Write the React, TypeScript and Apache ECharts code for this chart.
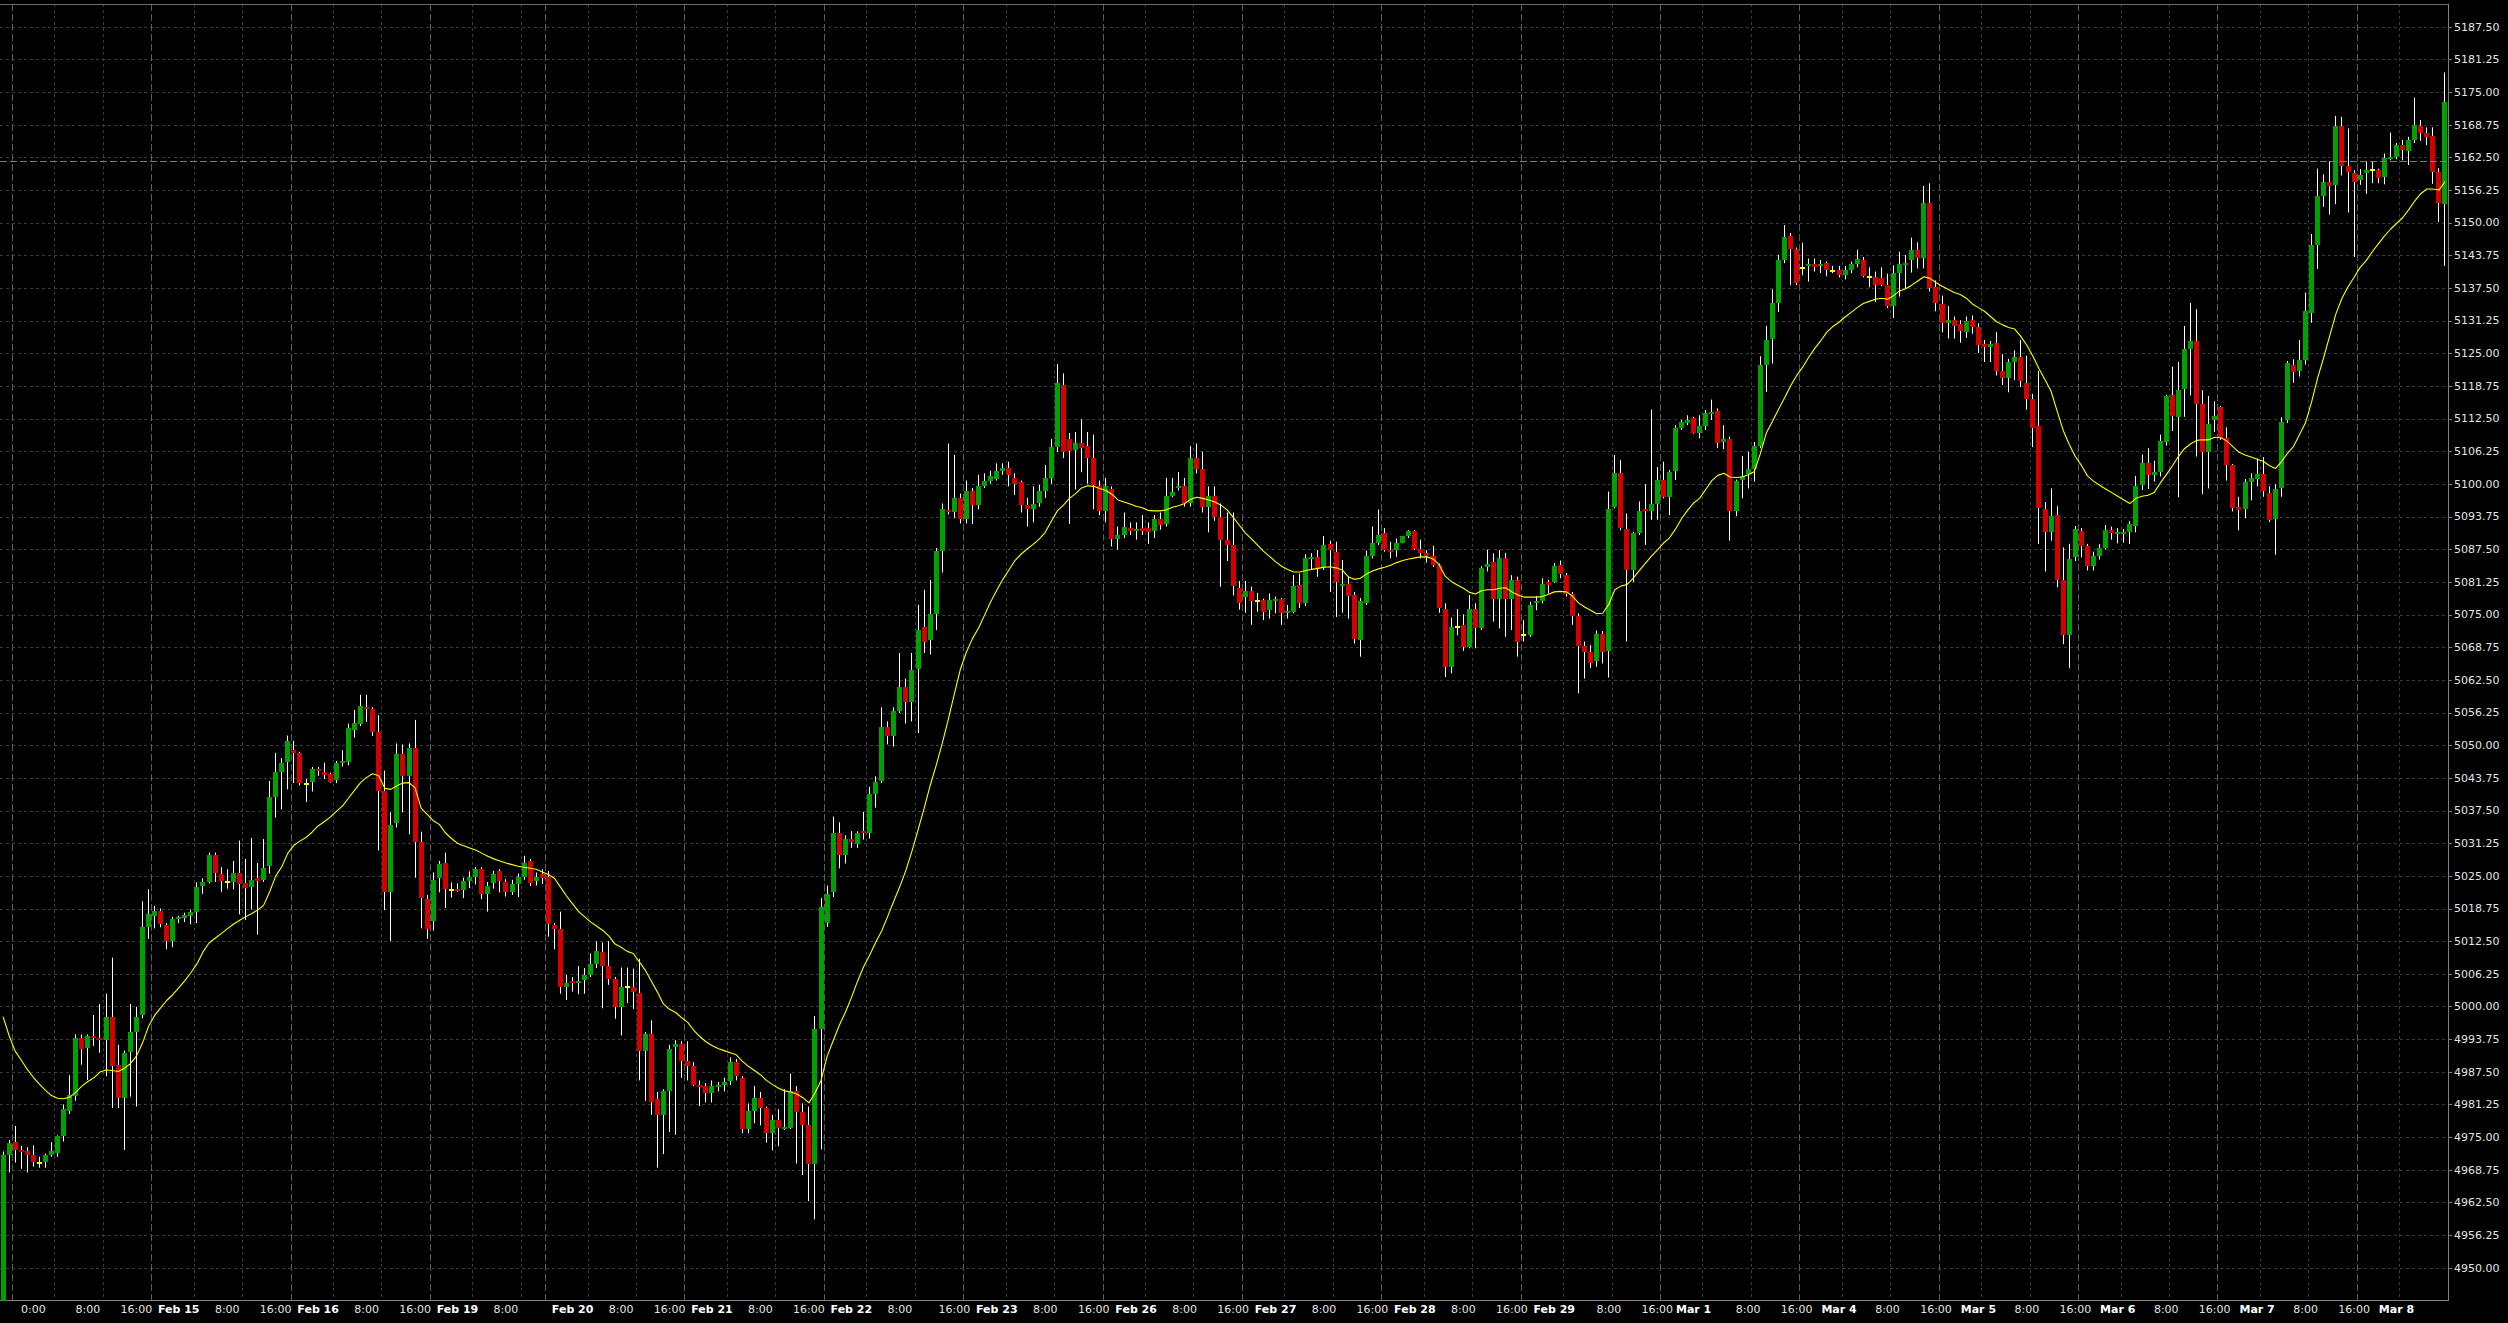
import React, { useEffect, useRef } from "react";
import * as echarts from "echarts";

// Hourly OHLC rows: [open, high, low, close], one array per trading session
const feb13 = [
  [4940.0, 4972.3, 4938.0, 4971.7], [4971.7, 4974.5, 4968.3, 4973.9],
];
const feb14 = [
  [4974.1, 4977.2, 4970.2, 4972.5], [4972.5, 4973.4, 4969.0, 4972.2], [4972.4, 4973.1, 4968.3, 4971.6],
  [4971.7, 4973.5, 4969.4, 4970.2], [4970.1, 4971.3, 4969.2, 4970.1], [4970.2, 4971.9, 4969.2, 4971.6],
  [4971.6, 4974.1, 4971.3, 4972.4], [4972.1, 4975.4, 4971.3, 4975.3], [4975.3, 4981.3, 4974.2, 4980.4],
  [4980.1, 4986.9, 4979.5, 4983.1], [4983.0, 4994.7, 4982.0, 4994.1], [4994.1, 4994.7, 4988.9, 4991.9],
  [4992.2, 4994.7, 4986.0, 4994.4], [4994.4, 4998.4, 4992.5, 4994.0], [4994.0, 5000.5, 4991.2, 4993.6],
  [4993.6, 5002.5, 4986.7, 4998.1], [4998.1, 5009.4, 4980.6, 4988.7], [4988.9, 4992.7, 4980.6, 4982.6],
  [4982.6, 4991.6, 4972.6, 4991.2], [4991.4, 5000.5, 4982.8, 4995.2], [4995.2, 5000.0, 4980.9, 4998.1],
  [4998.5, 5020.2, 4997.8, 5015.2], [5015.2, 5022.5, 5013.0, 5017.7],
];
const feb15 = [
  [5017.4, 5019.3, 5015.0, 5018.4], [5018.4, 5018.8, 5015.2, 5015.8], [5015.6, 5016.0, 5011.0, 5012.6],
  [5012.6, 5017.2, 5011.4, 5016.7], [5016.7, 5017.4, 5016.0, 5017.2], [5017.0, 5018.0, 5016.2, 5017.5],
  [5017.3, 5018.6, 5015.8, 5018.1], [5018.2, 5023.8, 5016.0, 5023.0], [5023.1, 5024.6, 5021.6, 5023.9],
  [5023.9, 5029.5, 5023.6, 5029.0], [5029.0, 5029.5, 5023.9, 5025.6], [5025.5, 5026.7, 5022.0, 5024.0],
  [5023.9, 5026.3, 5022.6, 5023.9], [5023.9, 5027.9, 5022.5, 5025.6], [5025.6, 5031.8, 5017.7, 5023.5],
  [5023.6, 5028.3, 5016.6, 5022.7], [5022.9, 5032.3, 5018.6, 5024.3], [5024.7, 5027.5, 5013.8, 5024.1],
  [5024.3, 5032.1, 5023.9, 5026.5], [5026.9, 5043.2, 5025.5, 5040.1], [5040.2, 5048.6, 5036.2, 5044.9],
  [5045.0, 5047.6, 5037.8, 5046.7], [5046.8, 5051.9, 5041.6, 5050.9],
];
const feb16 = [
  [5049.2, 5050.9, 5042.8, 5048.6], [5048.6, 5048.8, 5042.4, 5042.8], [5042.6, 5043.6, 5039.2, 5042.6],
  [5043.1, 5045.9, 5041.2, 5045.5], [5045.5, 5045.9, 5044.2, 5045.2], [5045.0, 5046.7, 5043.6, 5044.4],
  [5044.6, 5044.8, 5042.9, 5043.1], [5043.4, 5047.0, 5042.8, 5046.7], [5046.7, 5049.1, 5046.0, 5047.1],
  [5046.8, 5054.2, 5046.2, 5053.3], [5053.0, 5056.8, 5051.5, 5054.4], [5054.2, 5059.7, 5053.7, 5057.5],
  [5057.3, 5059.7, 5054.5, 5056.9], [5056.9, 5057.3, 5051.8, 5052.5], [5052.5, 5055.8, 5029.9, 5041.3],
  [5041.3, 5045.2, 5018.5, 5021.9], [5021.9, 5037.2, 5012.6, 5034.7], [5035.1, 5050.4, 5034.3, 5048.3],
  [5048.3, 5050.2, 5037.2, 5044.2], [5044.2, 5050.4, 5033.0, 5049.6], [5049.6, 5054.9, 5024.7, 5031.5],
  [5031.5, 5033.5, 5015.0, 5020.9], [5020.7, 5021.4, 5013.0, 5014.8],
];
const feb19 = [
  [5016.5, 5025.7, 5014.6, 5024.3], [5024.7, 5027.9, 5021.9, 5027.3], [5027.5, 5029.5, 5018.9, 5022.5],
  [5022.4, 5023.8, 5020.9, 5022.4], [5022.5, 5023.6, 5022.0, 5022.2], [5022.4, 5024.7, 5020.8, 5024.0],
  [5024.0, 5025.9, 5022.7, 5024.8], [5024.8, 5026.7, 5023.4, 5026.3], [5026.3, 5026.7, 5020.6, 5021.5],
  [5021.5, 5023.9, 5018.2, 5023.2], [5023.6, 5026.0, 5022.6, 5025.5], [5025.9, 5026.3, 5021.9, 5024.0],
  [5023.9, 5024.4, 5021.1, 5021.9], [5021.9, 5024.3, 5021.4, 5023.5], [5023.5, 5025.5, 5021.0, 5024.8],
  [5024.8, 5028.9, 5024.3, 5027.5], [5027.9, 5028.3, 5023.1, 5023.7], [5024.0, 5025.7, 5023.2, 5024.9],
  [5025.5, 5026.3, 5023.5, 5024.7],
];
const feb20 = [
  [5024.9, 5026.0, 5013.4, 5015.8], [5015.6, 5016.0, 5011.0, 5014.8], [5014.8, 5018.2, 5002.5, 5003.7],
  [5003.7, 5006.1, 5001.3, 5004.5], [5004.9, 5005.7, 5002.9, 5004.5], [5004.5, 5007.8, 5002.4, 5004.9],
  [5005.2, 5007.4, 5002.5, 5006.0], [5006.0, 5010.2, 5005.7, 5008.2], [5008.2, 5012.5, 5007.4, 5010.6],
  [5010.4, 5012.3, 4999.7, 5007.8], [5007.8, 5012.6, 5004.2, 5005.3], [5005.3, 5005.7, 4997.7, 4999.9],
  [4999.9, 5007.5, 4994.5, 5003.8], [5003.7, 5007.5, 5000.7, 5003.7], [5003.8, 5007.3, 4999.6, 5002.9],
  [5002.7, 5009.2, 4985.9, 4991.6], [4991.6, 4995.2, 4982.0, 4994.7], [4994.7, 4997.4, 4979.3, 4981.7],
  [4982.4, 4983.7, 4969.2, 4979.3], [4979.3, 4984.2, 4971.8, 4983.9], [4983.9, 4992.7, 4976.0, 4991.9],
  [4992.3, 4993.6, 4975.5, 4992.9], [4992.8, 4993.4, 4986.4, 4989.7],
];
const feb21 = [
  [4989.7, 4993.4, 4985.9, 4988.6], [4988.6, 4989.4, 4984.8, 4985.0], [4985.0, 4985.9, 4981.0, 4984.6],
  [4984.8, 4985.4, 4981.7, 4983.5], [4983.5, 4985.9, 4981.7, 4984.8], [4984.6, 4985.6, 4983.8, 4985.0],
  [4985.1, 4986.4, 4983.8, 4985.6], [4985.7, 4990.3, 4985.0, 4989.4], [4989.4, 4990.0, 4985.9, 4986.7],
  [4986.4, 4986.7, 4975.8, 4976.6], [4976.6, 4981.5, 4975.8, 4980.1], [4980.1, 4984.8, 4977.7, 4982.6],
  [4982.6, 4983.7, 4977.3, 4980.6], [4980.6, 4980.9, 4974.0, 4975.8], [4975.8, 4979.3, 4972.5, 4978.4],
  [4978.4, 4980.4, 4973.3, 4976.8], [4976.7, 4984.2, 4976.4, 4976.9], [4976.8, 4987.2, 4976.6, 4983.9],
  [4983.9, 4984.8, 4970.0, 4979.8], [4979.8, 4981.5, 4967.8, 4977.3], [4977.3, 4980.9, 4962.8, 4970.0],
  [4970.0, 4998.2, 4959.3, 4995.8], [4995.8, 5020.8, 4972.7, 5019.1],
];
const feb22 = [
  [5016.1, 5023.2, 5015.3, 5021.6], [5021.9, 5036.4, 5021.0, 5033.3], [5033.3, 5035.3, 5026.5, 5029.0],
  [5029.0, 5032.8, 5027.4, 5032.2], [5032.2, 5033.6, 5030.4, 5031.5], [5031.2, 5033.6, 5030.4, 5033.3],
  [5033.7, 5037.3, 5032.0, 5033.3], [5033.3, 5042.1, 5032.2, 5040.8], [5040.8, 5044.1, 5038.1, 5043.0],
  [5043.2, 5057.3, 5042.8, 5053.5], [5053.5, 5054.6, 5050.2, 5051.8], [5051.8, 5057.3, 5049.8, 5056.6],
  [5056.6, 5067.7, 5056.2, 5061.1], [5061.1, 5062.8, 5054.2, 5058.4], [5058.4, 5067.7, 5054.6, 5064.5],
  [5064.6, 5076.9, 5052.4, 5072.1], [5072.7, 5079.8, 5067.7, 5069.9], [5070.1, 5081.7, 5067.4, 5075.1],
  [5075.1, 5087.8, 5072.1, 5087.2], [5087.2, 5096.3, 5083.1, 5095.2], [5095.1, 5107.8, 5094.2, 5094.6],
  [5094.6, 5105.6, 5093.5, 5097.3], [5097.4, 5098.2, 5092.5, 5093.3],
];
const feb23 = [
  [5093.3, 5100.7, 5092.5, 5098.8], [5098.8, 5099.3, 5092.4, 5096.0], [5096.1, 5101.8, 5095.2, 5099.7],
  [5099.7, 5102.1, 5099.3, 5100.6], [5100.6, 5102.6, 5100.1, 5101.5], [5101.0, 5104.0, 5100.7, 5102.6],
  [5102.6, 5104.0, 5101.8, 5103.2], [5103.2, 5104.3, 5099.6, 5101.8], [5101.2, 5102.1, 5097.9, 5100.1],
  [5100.4, 5100.7, 5094.6, 5096.1], [5096.1, 5097.4, 5091.9, 5095.2], [5095.2, 5099.6, 5092.7, 5096.3],
  [5096.4, 5099.9, 5095.7, 5098.8], [5098.8, 5103.7, 5097.4, 5101.2], [5101.2, 5108.7, 5100.1, 5107.2],
  [5107.2, 5123.0, 5106.2, 5119.4], [5119.0, 5121.2, 5105.0, 5106.1], [5108.7, 5109.8, 5092.4, 5106.4],
  [5106.5, 5110.0, 5099.0, 5107.8], [5107.8, 5112.4, 5102.3, 5107.0], [5107.3, 5110.0, 5100.1, 5105.1],
  [5105.1, 5109.5, 5095.2, 5099.9], [5099.6, 5100.7, 5094.1, 5094.9],
];
const feb26 = [
  [5094.9, 5101.2, 5092.7, 5099.6], [5099.0, 5099.6, 5088.1, 5089.6], [5089.6, 5091.9, 5087.5, 5090.3],
  [5090.3, 5094.6, 5089.7, 5091.9], [5091.7, 5092.7, 5090.3, 5091.1], [5091.3, 5092.7, 5089.4, 5091.5],
  [5091.6, 5094.1, 5090.3, 5091.1], [5091.6, 5092.7, 5088.6, 5090.8], [5091.1, 5094.1, 5089.7, 5093.3],
  [5093.3, 5094.6, 5091.3, 5092.2], [5092.4, 5101.2, 5091.9, 5097.7], [5097.7, 5101.2, 5097.5, 5098.5],
  [5099.2, 5102.3, 5098.8, 5099.7], [5099.7, 5101.2, 5095.7, 5096.5], [5096.5, 5107.3, 5095.7, 5105.0],
  [5105.0, 5107.8, 5102.1, 5102.9], [5103.0, 5106.2, 5094.6, 5095.7], [5095.7, 5099.6, 5090.8, 5097.7],
  [5097.7, 5099.6, 5093.0, 5093.8], [5093.8, 5096.3, 5080.4, 5089.4], [5089.4, 5094.6, 5085.3, 5088.3],
  [5088.3, 5094.6, 5078.7, 5080.6], [5080.2, 5081.5, 5076.0, 5077.3],
];
const feb27 = [
  [5078.4, 5081.5, 5075.4, 5079.5], [5079.5, 5080.4, 5073.1, 5077.6], [5077.7, 5079.2, 5075.6, 5077.7],
  [5077.8, 5078.1, 5074.0, 5075.6], [5075.9, 5079.1, 5074.3, 5077.9], [5077.9, 5078.5, 5075.3, 5078.0],
  [5078.0, 5078.2, 5073.1, 5075.4], [5075.4, 5076.9, 5074.3, 5075.7], [5075.6, 5082.6, 5075.3, 5080.5],
  [5080.8, 5082.9, 5076.3, 5077.2], [5077.2, 5086.6, 5076.7, 5085.8], [5085.8, 5086.8, 5083.6, 5086.0],
  [5086.0, 5087.4, 5082.3, 5083.9], [5083.9, 5090.1, 5083.6, 5088.4], [5088.6, 5089.2, 5079.4, 5087.5],
  [5087.1, 5089.0, 5074.6, 5081.2], [5080.6, 5085.5, 5075.4, 5081.0], [5081.0, 5082.3, 5074.3, 5078.6],
  [5078.8, 5079.4, 5069.5, 5070.3], [5070.1, 5078.2, 5067.0, 5077.7], [5077.3, 5087.3, 5076.9, 5086.3],
  [5086.3, 5091.9, 5085.8, 5088.7], [5088.8, 5095.2, 5088.4, 5090.3],
];
const feb28 = [
  [5090.6, 5091.6, 5087.1, 5087.5], [5087.5, 5089.0, 5085.8, 5087.1], [5087.4, 5089.6, 5086.1, 5088.8],
  [5088.8, 5090.1, 5088.7, 5090.0], [5090.0, 5091.2, 5089.7, 5091.0], [5091.0, 5091.2, 5087.4, 5087.7],
  [5087.7, 5089.4, 5085.8, 5086.9], [5086.9, 5087.4, 5085.0, 5086.3], [5086.3, 5088.2, 5084.2, 5084.5],
  [5084.5, 5084.8, 5075.4, 5076.4], [5076.2, 5077.2, 5063.1, 5065.0], [5065.1, 5074.5, 5063.8, 5072.6],
  [5072.7, 5076.1, 5071.1, 5072.7], [5073.1, 5075.1, 5068.1, 5068.9], [5068.9, 5078.8, 5068.6, 5076.2],
  [5076.2, 5077.2, 5068.6, 5072.4], [5072.4, 5084.3, 5072.1, 5083.9], [5084.1, 5087.5, 5083.3, 5084.8],
  [5085.2, 5086.8, 5073.7, 5078.0], [5078.0, 5087.4, 5072.4, 5085.9], [5085.9, 5086.8, 5070.8, 5078.0],
  [5078.0, 5082.6, 5072.1, 5081.7], [5081.7, 5082.3, 5067.0, 5069.9],
];
const feb29 = [
  [5071.2, 5074.0, 5069.9, 5071.2], [5071.2, 5077.5, 5070.8, 5076.9], [5077.2, 5078.6, 5075.9, 5077.7],
  [5077.7, 5082.0, 5077.2, 5081.0], [5081.2, 5081.7, 5079.1, 5080.7], [5081.2, 5084.9, 5081.1, 5084.3],
  [5084.5, 5085.4, 5082.0, 5082.8], [5082.6, 5083.0, 5078.5, 5079.0], [5079.0, 5079.4, 5073.1, 5074.8],
  [5074.8, 5075.3, 5060.0, 5069.0], [5069.0, 5069.9, 5062.8, 5067.9], [5067.9, 5069.2, 5064.8, 5065.8],
  [5066.2, 5072.0, 5065.1, 5071.3], [5071.4, 5071.9, 5065.7, 5067.9], [5068.1, 5098.6, 5063.0, 5095.2],
  [5095.7, 5105.6, 5095.4, 5102.1], [5102.1, 5104.6, 5091.2, 5091.6], [5091.4, 5094.4, 5069.9, 5083.6],
  [5083.6, 5090.9, 5081.3, 5090.6], [5090.7, 5096.7, 5090.3, 5094.9], [5095.2, 5100.0, 5088.4, 5094.8],
  [5094.8, 5114.3, 5093.2, 5096.3], [5096.3, 5103.3, 5093.2, 5100.8],
];
const mar1 = [
  [5100.8, 5104.3, 5097.3, 5097.6], [5097.6, 5102.7, 5094.1, 5102.4], [5102.6, 5111.3, 5100.8, 5110.7],
  [5110.8, 5112.3, 5110.4, 5111.9], [5111.8, 5113.2, 5111.3, 5112.3], [5112.6, 5112.9, 5109.7, 5109.9],
  [5109.9, 5113.2, 5108.8, 5111.1], [5111.1, 5114.2, 5110.4, 5113.7], [5113.7, 5116.2, 5112.3, 5113.9],
  [5114.0, 5114.5, 5106.9, 5107.9], [5108.1, 5111.3, 5106.7, 5108.6], [5108.6, 5109.1, 5089.2, 5094.9],
  [5094.9, 5100.9, 5093.9, 5100.7], [5100.8, 5105.4, 5097.3, 5101.6], [5102.0, 5106.2, 5099.2, 5102.9],
  [5103.0, 5108.1, 5100.5, 5107.3], [5107.3, 5124.5, 5106.9, 5122.8], [5122.8, 5130.3, 5117.7, 5127.6],
  [5127.8, 5137.3, 5123.1, 5134.6], [5134.6, 5143.9, 5133.0, 5142.9], [5142.9, 5149.6, 5142.3, 5147.4],
  [5147.5, 5148.1, 5138.1, 5145.0], [5145.0, 5145.3, 5138.1, 5138.6],
];
const mar4 = [
  [5141.4, 5146.2, 5140.0, 5141.4], [5141.8, 5143.2, 5138.8, 5142.2], [5142.1, 5143.2, 5140.7, 5141.5],
  [5141.8, 5142.9, 5140.4, 5142.2], [5142.3, 5142.6, 5139.8, 5141.0], [5140.9, 5141.8, 5140.4, 5140.9],
  [5141.0, 5141.8, 5139.6, 5140.0], [5140.0, 5141.8, 5139.2, 5141.0], [5141.0, 5142.6, 5140.4, 5142.1],
  [5142.2, 5144.9, 5141.5, 5143.2], [5143.0, 5143.5, 5139.6, 5139.8], [5139.7, 5141.5, 5137.7, 5139.7],
  [5139.6, 5140.7, 5134.9, 5138.1], [5139.5, 5141.5, 5137.9, 5138.2], [5138.2, 5140.3, 5133.7, 5134.1],
  [5134.1, 5141.9, 5131.8, 5140.5], [5140.5, 5144.5, 5135.9, 5142.1], [5142.1, 5143.9, 5137.5, 5142.4],
  [5142.9, 5147.2, 5140.5, 5144.9], [5144.9, 5146.3, 5141.3, 5143.3], [5143.3, 5157.1, 5141.3, 5153.8],
  [5153.8, 5157.6, 5136.9, 5137.5], [5137.7, 5139.0, 5133.1, 5134.7],
];
const mar5 = [
  [5134.5, 5136.1, 5129.1, 5130.8], [5130.8, 5134.1, 5127.9, 5131.4], [5131.4, 5132.1, 5127.9, 5130.2],
  [5130.6, 5131.4, 5127.1, 5129.4], [5129.2, 5132.1, 5128.0, 5131.3], [5131.5, 5132.3, 5128.8, 5130.0],
  [5130.0, 5130.8, 5125.1, 5126.6], [5126.8, 5127.6, 5123.4, 5126.2], [5126.2, 5127.4, 5123.4, 5126.8],
  [5127.0, 5129.1, 5120.8, 5121.6], [5121.6, 5124.9, 5119.0, 5120.4], [5120.4, 5124.0, 5117.6, 5123.4],
  [5123.4, 5125.6, 5119.9, 5124.4], [5124.4, 5127.6, 5118.6, 5119.8], [5119.4, 5124.6, 5114.3, 5116.3],
  [5116.3, 5117.3, 5107.1, 5110.7], [5111.1, 5121.7, 5088.6, 5095.4], [5095.2, 5096.6, 5083.3, 5090.8],
  [5090.8, 5099.2, 5089.2, 5094.0], [5094.2, 5095.8, 5080.3, 5081.7], [5081.7, 5087.9, 5069.4, 5071.2],
  [5071.2, 5088.6, 5064.8, 5085.7], [5086.0, 5092.0, 5085.3, 5091.5],
];
const mar6 = [
  [5091.0, 5091.6, 5086.0, 5088.1], [5088.1, 5088.6, 5083.5, 5084.3], [5084.3, 5087.1, 5083.5, 5086.2],
  [5086.2, 5088.5, 5085.6, 5087.8], [5087.8, 5092.2, 5087.5, 5091.2], [5091.3, 5091.9, 5089.4, 5090.7],
  [5090.5, 5091.6, 5088.7, 5090.8], [5090.6, 5091.4, 5088.8, 5090.9], [5090.8, 5092.9, 5088.6, 5092.4],
  [5092.0, 5101.6, 5090.8, 5099.6], [5099.9, 5105.7, 5098.9, 5104.1], [5104.1, 5106.9, 5099.1, 5101.8],
  [5101.8, 5104.5, 5100.5, 5102.3], [5102.3, 5109.5, 5101.5, 5108.3], [5108.1, 5117.1, 5107.4, 5116.8],
  [5117.0, 5122.5, 5110.2, 5113.1], [5112.8, 5123.4, 5097.5, 5118.0], [5118.2, 5130.3, 5112.9, 5125.9],
  [5125.9, 5134.7, 5117.0, 5127.5], [5127.5, 5133.5, 5105.3, 5115.4], [5115.4, 5118.0, 5098.1, 5106.1],
  [5106.1, 5116.9, 5099.2, 5111.5], [5112.2, 5115.9, 5110.0, 5113.1],
];
const mar7 = [
  [5114.7, 5115.0, 5108.5, 5108.9], [5108.9, 5110.9, 5100.7, 5103.7], [5103.7, 5103.9, 5094.8, 5095.4],
  [5095.6, 5097.6, 5091.2, 5095.1], [5095.3, 5101.0, 5093.5, 5100.5], [5100.5, 5102.1, 5096.9, 5101.1],
  [5101.0, 5104.9, 5099.6, 5102.0], [5102.0, 5105.2, 5097.6, 5098.8], [5098.4, 5099.6, 5092.8, 5093.2],
  [5093.3, 5100.0, 5086.5, 5099.1], [5099.2, 5112.8, 5097.6, 5111.9], [5112.3, 5123.6, 5111.7, 5123.2],
  [5122.9, 5123.9, 5119.4, 5121.4], [5121.6, 5127.6, 5120.6, 5123.7], [5123.8, 5136.7, 5122.9, 5133.1],
  [5132.7, 5147.9, 5130.9, 5145.8], [5145.8, 5160.4, 5141.2, 5155.2], [5155.2, 5159.3, 5153.1, 5157.9],
  [5157.9, 5161.8, 5151.6, 5157.1], [5157.2, 5170.5, 5153.6, 5168.5], [5168.5, 5170.3, 5159.1, 5160.9],
  [5160.9, 5168.1, 5152.0, 5159.8], [5159.5, 5160.1, 5143.5, 5157.9],
];
const mar8 = [
  [5158.2, 5160.3, 5157.3, 5159.1], [5159.6, 5161.9, 5155.6, 5160.2], [5160.1, 5161.7, 5157.6, 5160.1],
  [5160.2, 5160.4, 5157.6, 5158.7], [5158.8, 5163.3, 5157.4, 5162.5], [5162.4, 5167.3, 5162.0, 5162.7],
  [5162.7, 5165.3, 5162.2, 5164.9], [5164.9, 5165.9, 5162.0, 5163.9], [5163.7, 5166.5, 5161.1, 5165.9],
  [5165.9, 5174.0, 5165.3, 5168.7], [5168.5, 5169.7, 5165.7, 5167.3], [5167.3, 5168.3, 5164.9, 5166.5],
  [5166.7, 5168.3, 5157.5, 5159.7], [5159.7, 5160.5, 5150.2, 5153.9], [5153.6, 5178.8, 5141.8, 5173.2],
];

const sessionNames = ["Feb 13", "Feb 14", "Feb 15", "Feb 16", "Feb 19", "Feb 20", "Feb 21", "Feb 22", "Feb 23",
  "Feb 26", "Feb 27", "Feb 28", "Feb 29", "Mar 1", "Mar 4", "Mar 5", "Mar 6", "Mar 7", "Mar 8"];
const sessions = [feb13, feb14, feb15, feb16, feb19, feb20, feb21, feb22, feb23,
  feb26, feb27, feb28, feb29, mar1, mar4, mar5, mar6, mar7, mar8];

// Moving average (yellow line), one value per bar
const maPart1 = [
  4998.1, 4994.5, 4991.5, 4989.8, 4988.0, 4986.5, 4985.2, 4984.0, 4983.0, 4982.5,
  4982.4, 4982.7, 4983.6, 4984.8, 4985.7, 4986.4, 4987.5, 4987.9, 4987.8, 4987.6,
  4988.2, 4989.1, 4990.5, 4993.0, 4996.2, 4998.3, 4999.8, 5001.2, 5002.3, 5003.6,
  5005.0, 5006.5, 5008.2, 5010.5, 5012.2, 5013.1, 5014.0, 5014.9, 5015.8, 5016.5,
  5017.2, 5017.8, 5018.5, 5019.4, 5022.0, 5025.0, 5026.8, 5029.4, 5030.9, 5031.7,
  5032.4, 5033.4, 5034.6, 5035.4, 5036.3, 5037.4, 5038.4, 5039.9, 5041.4, 5042.9,
  5043.9, 5044.6, 5044.2, 5041.8, 5041.6, 5042.3, 5042.8, 5042.9, 5041.9, 5038.0,
  5036.8, 5035.6, 5034.9, 5033.3, 5032.2, 5031.3, 5030.8, 5030.4, 5030.0, 5029.4,
  5028.8, 5028.3, 5027.9, 5027.5, 5027.2, 5026.9, 5026.7, 5026.5, 5026.3, 5025.8,
  5025.3, 5024.6, 5022.9, 5021.2, 5019.7, 5018.2, 5017.2, 5016.2, 5015.4, 5014.6,
];
const maPart2 = [
  5013.5, 5012.0, 5011.4, 5010.6, 5010.2, 5008.6, 5007.0, 5004.9, 5002.8, 5000.5,
  4999.5, 4998.9, 4997.9, 4997.0, 4995.5, 4994.3, 4993.3, 4992.6, 4992.0, 4991.6,
  4991.2, 4990.8, 4989.6, 4988.6, 4987.8, 4987.0, 4985.9, 4985.1, 4984.4, 4983.9,
  4983.7, 4983.3, 4982.6, 4981.6, 4983.5, 4985.9, 4990.5, 4993.5, 4996.4, 4998.9,
  5001.7, 5004.8, 5007.6, 5009.8, 5012.3, 5014.5, 5017.3, 5020.2, 5023.0, 5026.1,
  5029.8, 5033.8, 5037.9, 5042.3, 5046.2, 5050.4, 5055.0, 5059.9, 5064.6, 5067.9,
  5070.5, 5072.5, 5075.0, 5077.5, 5079.7, 5081.8, 5083.6, 5085.4, 5086.6, 5087.6,
  5088.5, 5089.5, 5090.8, 5092.9, 5094.9, 5096.0, 5097.3, 5098.2, 5099.3, 5099.7,
  5099.6, 5099.2, 5098.8, 5098.1, 5097.0, 5096.6, 5096.2, 5095.8, 5095.5, 5095.0,
  5094.9, 5094.9, 5095.1, 5095.6, 5095.9, 5096.3, 5097.1, 5097.5, 5097.3, 5097.0,
];
const maPart3 = [
  5096.6, 5096.0, 5095.1, 5093.7, 5092.2, 5090.7, 5089.6, 5088.4, 5087.2, 5086.2,
  5085.2, 5084.3, 5083.7, 5083.2, 5083.2, 5083.5, 5083.7, 5083.9, 5084.1, 5084.2,
  5084.0, 5083.6, 5082.3, 5081.8, 5082.0, 5082.8, 5083.4, 5083.8, 5084.1, 5084.5,
  5085.0, 5085.4, 5085.7, 5085.9, 5086.1, 5086.1, 5085.7, 5084.6, 5082.4, 5081.4,
  5080.7, 5080.1, 5079.3, 5079.0, 5079.6, 5079.8, 5079.8, 5080.1, 5080.2, 5079.4,
  5078.8, 5078.4, 5078.4, 5078.4, 5078.5, 5078.9, 5079.4, 5079.5, 5079.4, 5078.6,
  5077.3, 5076.5, 5075.9, 5075.2, 5075.3, 5077.0, 5079.8, 5080.5, 5080.8, 5082.0,
  5083.4, 5084.8, 5086.2, 5087.4, 5088.7, 5089.7, 5091.4, 5093.4, 5095.0, 5096.4,
  5097.3, 5099.0, 5100.7, 5101.7, 5102.1, 5101.4, 5101.3, 5101.4, 5101.8, 5102.4,
  5105.8, 5109.8, 5112.0, 5114.3, 5116.5, 5118.8, 5120.8, 5122.4, 5124.3, 5126.0,
];
const maPart4 = [
  5127.5, 5129.1, 5130.2, 5131.0, 5132.0, 5132.9, 5133.8, 5134.6, 5135.0, 5135.4,
  5135.6, 5135.4, 5136.1, 5137.0, 5137.4, 5138.1, 5138.9, 5139.7, 5139.4, 5138.6,
  5137.9, 5137.3, 5136.7, 5136.3, 5135.6, 5134.5, 5133.8, 5133.1, 5132.1, 5131.1,
  5130.5, 5130.0, 5129.7, 5128.3, 5126.6, 5124.5, 5122.1, 5120.0, 5117.8, 5114.0,
  5110.3, 5107.6, 5105.3, 5103.6, 5101.6, 5100.6, 5099.8, 5099.1, 5098.4, 5097.7,
  5097.0, 5096.3, 5097.3, 5097.7, 5097.9, 5098.4, 5100.2, 5101.8, 5103.5, 5105.3,
  5106.8, 5107.7, 5108.4, 5108.5, 5108.5, 5109.0, 5108.9, 5108.3, 5107.2, 5106.1,
  5105.6, 5105.2, 5104.8, 5104.4, 5103.6, 5103.0, 5104.3, 5105.9, 5107.2, 5109.5,
  5111.8, 5115.8, 5120.4, 5124.3, 5128.5, 5132.6, 5135.6, 5137.8, 5139.6, 5141.5,
  5142.8, 5144.5, 5146.0, 5147.5, 5148.8, 5149.9, 5151.0, 5152.5, 5154.2, 5155.6,
  5156.5, 5156.5, 5156.3, 5157.9,
];

// Time-axis tick labels (bar index where each label sits, and its text)
const xLabelIndex = [5, 14, 22, 29, 37, 45, 52, 60, 68, 75, 83, 94, 102, 110, 117, 125, 133, 140, 148, 157,
  164, 172, 180, 187, 195, 203, 210, 218, 226, 233, 241, 249, 256, 265, 273, 279, 288, 296, 303, 311,
  319, 326, 334, 342, 349, 357, 365, 372, 380, 388, 395];
const xLabelText = ["0:00", "8:00", "16:00", "Feb 15", "8:00", "16:00", "Feb 16", "8:00", "16:00", "Feb 19",
  "8:00", "Feb 20", "8:00", "16:00", "Feb 21", "8:00", "16:00", "Feb 22", "8:00", "16:00", "Feb 23", "8:00",
  "16:00", "Feb 26", "8:00", "16:00", "Feb 27", "8:00", "16:00", "Feb 28", "8:00", "16:00", "Feb 29", "8:00",
  "16:00", "Mar 1", "8:00", "16:00", "Mar 4", "8:00", "16:00", "Mar 5", "8:00", "16:00", "Mar 6", "8:00",
  "16:00", "Mar 7", "8:00", "16:00", "Mar 8"];

const yTickStep = 6.25;
const priceLine = 5161.9;

const FONT = "DejaVu Sans";

export default function App() {
  const ref = useRef<HTMLDivElement>(null);

  useEffect(() => {
    if (!ref.current) return;
    const chart = echarts.init(ref.current, null, { renderer: "svg" });

    const rows: number[][] = [];
    const categories: string[] = [];
    const sessionStarts: number[] = [];
    sessions.forEach((sess, k) => {
      sessionStarts.push(rows.length);
      const startHour = k === 0 ? 14 : 17;
      sess.forEach((r, j) => {
        categories.push(sessionNames[k] + " " + ((startHour + j) % 24) + ":00");
        rows.push(r);
      });
    });
    const n = rows.length;
    const candleData = rows.map((r, i) => [i, r[0], r[3], r[2], r[1]]); // idx, open, close, low, high
    const maData = [...maPart1, ...maPart2, ...maPart3, ...maPart4];

    const separators = new Set<number>();
    const minorGrid = new Set<number>();
    sessionStarts.forEach((s, k) => {
      if (k === 0) return;
      separators.add(s);
      const next = k + 1 < sessionStarts.length ? sessionStarts[k + 1] : n;
      [7, 15].forEach((o) => { if (s + o < next) minorGrid.add(s + o); });
    });
    const labelMap = new Map<number, string>();
    xLabelIndex.forEach((ix, k) => labelMap.set(ix, xLabelText[k]));

    const option: any = {
      animation: false,
      backgroundColor: "#000000",
      grid: { left: 0, right: 60, top: 4, bottom: 22.34, containLabel: false },
      xAxis: [
        {
          type: "category",
          data: categories,
          boundaryGap: true,
          position: "bottom",
          axisLine: { show: true, lineStyle: { color: "#808080", width: 1 } },
          axisTick: { show: false },
          axisLabel: {
            interval: (index: number) => labelMap.has(index),
            formatter: (_v: string, index: number) => {
              const t = labelMap.get(index) || "";
              return /^[A-Z]/.test(t) ? "{d|" + t + "}" : "{t|" + t + "}";
            },
            margin: 3,
            rich: {
              d: { fontFamily: FONT, fontSize: 11, fontWeight: "bold", color: "#ffffff" },
              t: { fontFamily: FONT, fontSize: 11, color: "#e4e4e4" },
            },
          },
          splitLine: {
            show: true,
            interval: (index: number) => minorGrid.has(index),
            lineStyle: { color: "#3a3a3a", type: [3, 3], width: 1 },
          },
        },
        {
          type: "category",
          data: categories,
          boundaryGap: true,
          position: "top",
          axisLine: { show: true, lineStyle: { color: "#6e6e6e", width: 1 } },
          axisTick: { show: false },
          axisLabel: { show: false },
          splitLine: {
            show: true,
            interval: (index: number) => separators.has(index),
            lineStyle: { color: "#5c5c5c", type: [7, 3], width: 1 },
          },
        },
      ],
      yAxis: {
        type: "value",
        position: "right",
        min: 4943.75,
        max: 5191.91,
        interval: yTickStep,
        axisLine: { show: true, lineStyle: { color: "#808080", width: 1 } },
        axisTick: { show: true, length: 4, lineStyle: { color: "#808080" } },
        axisLabel: {
          show: true,
          margin: 6,
          color: "#e4e4e4",
          fontFamily: FONT,
          fontSize: 11,
          showMinLabel: false,
          showMaxLabel: false,
          formatter: (v: number) => v.toFixed(2),
        },
        splitLine: { show: true, lineStyle: { color: "#3a3a3a", type: [3, 3], width: 1 } },
      },
      series: [
        {
          type: "custom",
          name: "candles",
          xAxisIndex: 0,
          yAxisIndex: 0,
          clip: true,
          encode: { x: 0, y: [1, 2, 3, 4] },
          data: candleData,
          renderItem: (_params: any, api: any) => {
            const i = api.value(0);
            const o = api.value(1);
            const c = api.value(2);
            const l = api.value(3);
            const h = api.value(4);
            const pO = api.coord([i, o]);
            const pC = api.coord([i, c]);
            const yH = api.coord([i, Math.max(h, o, c)])[1];
            const yL = api.coord([i, Math.min(l, o, c)])[1];
            const px = Math.floor(pO[0]);
            let top: number;
            let bot: number;
            if (o === c) {
              top = Math.round(pO[1]) - 1;
              bot = top + 2;
            } else {
              top = Math.round(Math.min(pO[1], pC[1]));
              bot = Math.round(Math.max(pO[1], pC[1]));
              if (bot - top < 2) bot = top + 2;
            }
            const fill = o === c ? "#ffff00" : c > o ? "#00a000" : "#d40000";
            return {
              type: "group",
              children: [
                {
                  type: "line",
                  shape: { x1: px + 0.5, y1: yH, x2: px + 0.5, y2: yL },
                  style: { stroke: "#ffffff", lineWidth: 1 },
                },
                {
                  type: "rect",
                  shape: { x: px - 2, y: top, width: 5, height: bot - top },
                  style: { fill },
                },
              ],
            };
          },
          z: 3,
        },
        {
          type: "line",
          name: "MA",
          xAxisIndex: 0,
          yAxisIndex: 0,
          data: maData,
          showSymbol: false,
          symbol: "none",
          smooth: false,
          lineStyle: { color: "#ffff00", width: 1.1 },
          z: 4,
          markLine: {
            silent: true,
            symbol: ["none", "none"],
            label: { show: false },
            lineStyle: { color: "#7a7a7a", type: [7, 3], width: 1 },
            data: [{ yAxis: priceLine }],
          },
        },
      ],
    };

    chart.setOption(option);
    return () => chart.dispose();
  }, []);

  return (
    <div
      ref={ref}
      style={{ position: "fixed", left: 0, top: 0, width: "2508px", height: "1323px", background: "#000" }}
    />
  );
}
